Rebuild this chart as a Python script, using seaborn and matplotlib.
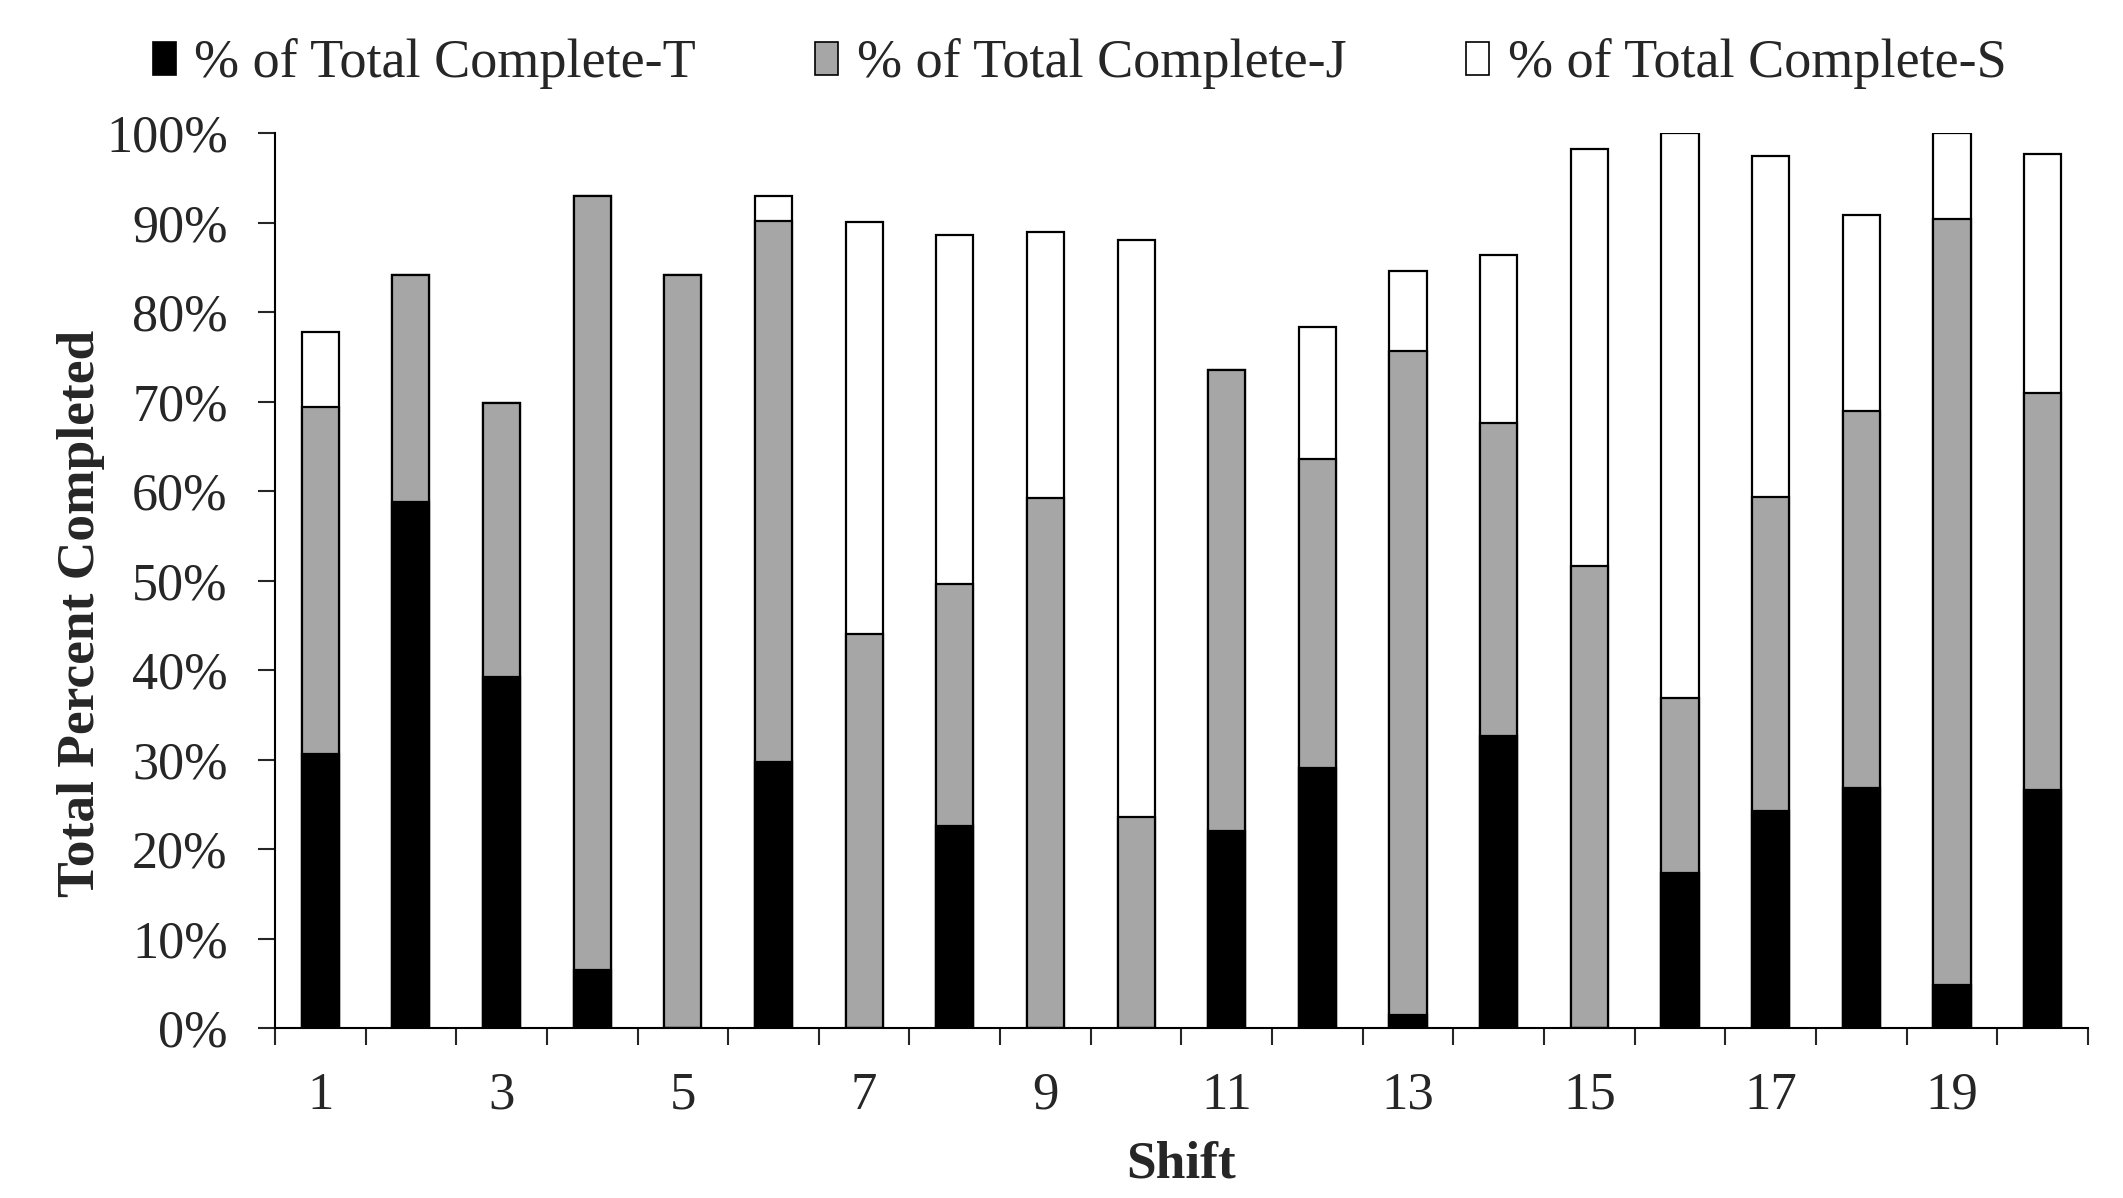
import numpy as np
import pandas as pd
import matplotlib
matplotlib.use("Agg")
import matplotlib.pyplot as plt
import seaborn as sns
from matplotlib.patches import Patch
from matplotlib.ticker import PercentFormatter, FixedLocator

# data: share of total completed per shift (percent)
shifts = [str(i) for i in range(1, 21)]
pct_t = [30.6, 58.8, 39.3, 6.5, 0.0, 29.8, 0.0, 22.6, 0.0, 0.0,
         22.1, 29.1, 1.5, 32.7, 0.0, 17.4, 24.3, 26.9, 4.8, 26.6]
pct_j = [38.8, 25.3, 30.6, 86.5, 84.1, 60.4, 44.0, 27.0, 59.2, 23.6,
         51.4, 34.5, 74.2, 34.9, 51.6, 19.5, 35.1, 42.0, 85.6, 44.4]
pct_s = [8.4, 0.0, 0.0, 0.0, 0.0, 2.8, 46.1, 39.0, 29.7, 64.4,
         0.0, 14.7, 8.9, 18.8, 46.6, 63.1, 38.0, 21.9, 9.6, 26.7]
legend_labels = ["% of Total Complete-T", "% of Total Complete-J", "% of Total Complete-S"]

df = pd.DataFrame({"shift": shifts, "T": pct_t, "J": pct_j, "S": pct_s})
df["TJ"] = df["T"] + df["J"]
df["TJS"] = df["TJ"] + df["S"]

sns.set_style("ticks")
plt.rcParams["font.family"] = ["Liberation Serif", "DejaVu Serif"]
plt.rcParams["font.size"] = 37

fig = plt.figure(figsize=(21.23, 11.98), dpi=100)
ax = fig.add_axes([0.1295, 0.1415, 0.854, 0.7475])

gray = "#a6a6a6"
bar_kw = dict(width=0.41, edgecolor="black", linewidth=1.6, order=shifts, ax=ax)
# layered totals give the stacked look
sns.barplot(data=df, x="shift", y="TJS", color="white", saturation=1, **bar_kw)
sns.barplot(data=df, x="shift", y="TJ", color=gray, saturation=1, **bar_kw)
sns.barplot(data=df, x="shift", y="T", color="black", saturation=1, **bar_kw)

ax.set_ylim(0, 100)
ax.set_xlim(-0.5, 19.5)
ax.yaxis.set_major_locator(FixedLocator(np.arange(0, 101, 10)))
ax.yaxis.set_major_formatter(PercentFormatter(decimals=0))

ax.set_xticks(range(20))
ax.set_xticklabels([s if int(s) % 2 == 1 else "" for s in shifts])
ax.xaxis.set_minor_locator(FixedLocator(np.arange(-0.5, 20, 1)))
ax.tick_params(axis="x", which="major", length=0, pad=31, labelsize=38)
ax.tick_params(axis="x", which="minor", length=12, width=1.5, direction="out")
ax.tick_params(axis="y", length=12, width=1.5, direction="out", pad=22, labelsize=37.5)

for side in ["top", "right"]:
    ax.spines[side].set_visible(False)
for side in ["left", "bottom"]:
    ax.spines[side].set_linewidth(1.5)
    ax.spines[side].set_color("black")

ax.set_xlabel("Shift", fontweight="bold", fontsize=38.5)
ax.set_ylabel("Total Percent Completed", fontweight="bold", fontsize=38.5)
ax.xaxis.set_label_coords(0.5, -0.125)
ax.yaxis.set_label_coords(-0.094, 0.464)

handles = [Patch(facecolor=c, edgecolor="black", linewidth=1.2) for c in ["black", gray, "white"]]
fig.legend(handles, legend_labels, loc="center", bbox_to_anchor=(0.5085, 0.9466),
           ncol=3, frameon=False, fontsize=39, handlelength=0.42, handleheight=0.55,
           handletextpad=0.35, columnspacing=2.2)

fig.savefig("out.png", dpi=100)
